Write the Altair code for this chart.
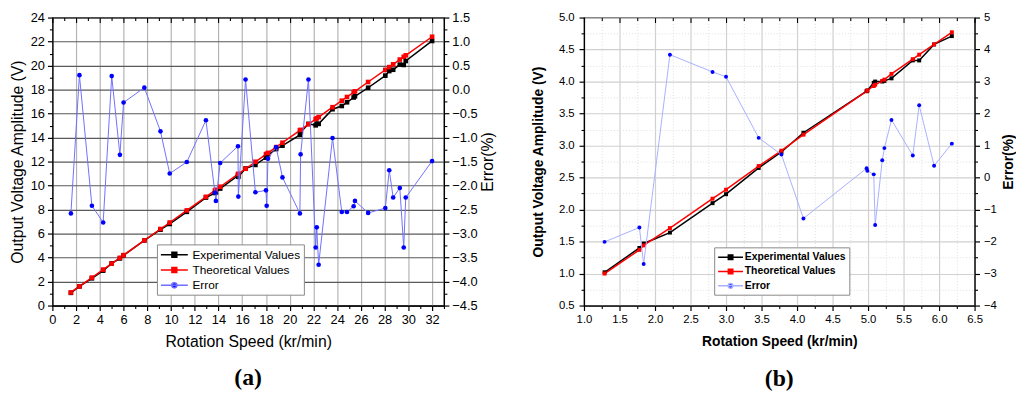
import altair as alt
import pandas as pd

# ---------------- Panel (a) data ----------------
a_speed = [1.56, 2.28, 3.33, 4.28, 5.00, 5.69, 6.00, 7.75, 9.11, 9.89,
           11.33, 12.94, 13.70, 13.78, 14.14, 15.64, 15.67, 16.28, 17.11, 18.00,
           18.06, 18.17, 18.86, 19.39, 20.86, 20.92, 21.58, 22.19, 22.28, 22.44,
           23.61, 24.39, 24.83, 25.39, 25.50, 26.61, 28.06, 28.39, 28.72, 29.28,
           29.61, 29.78, 32.00]
a_theo = [1.09, 1.60, 2.33, 3.00, 3.50, 3.98, 4.20, 5.43, 6.38, 6.92,
          7.93, 9.06, 9.59, 9.65, 9.90, 10.95, 10.97, 11.40, 11.98, 12.60,
          12.64, 12.72, 13.20, 13.57, 14.60, 14.64, 15.11, 15.53, 15.60, 15.71,
          16.53, 17.07, 17.38, 17.77, 17.85, 18.63, 19.64, 19.87, 20.10, 20.50,
          20.73, 20.85, 22.40]
a_exp = [1.06, 1.60, 2.27, 2.91, 3.51, 3.93, 4.19, 5.43, 6.32, 6.80,
         7.81, 9.00, 9.38, 9.43, 9.75, 10.82, 10.73, 11.42, 11.72, 12.34,
         12.33, 12.54, 13.04, 13.32, 14.22, 14.44, 15.14, 15.02, 15.15, 15.14,
         16.36, 16.63, 16.94, 17.34, 17.44, 18.15, 19.16, 19.54, 19.65, 20.08,
         20.05, 20.38, 22.05]
a_err = [-2.58, 0.30, -2.42, -2.77, 0.28, -1.36, -0.27, 0.04, -0.87, -1.75,
         -1.51, -0.64, -2.15, -2.32, -1.53, -1.18, -2.23, 0.21, -2.14, -2.10,
         -2.42, -1.44, -1.20, -1.83, -2.58, -1.35, 0.21, -3.29, -2.87, -3.65,
         -1.01, -2.55, -2.55, -2.43, -2.32, -2.57, -2.47, -1.68, -2.25, -2.05,
         -3.29, -2.25, -1.49]
a_xticks = [0, 2, 4, 6, 8, 10, 12, 14, 16, 18, 20, 22, 24, 26, 28, 30, 32]
a_xminor = [1, 3, 5, 7, 9, 11, 13, 15, 17, 19, 21, 23, 25, 27, 29, 31, 33]
a_yticks = [0, 2, 4, 6, 8, 10, 12, 14, 16, 18, 20, 22, 24]
a_yminor = [1, 3, 5, 7, 9, 11, 13, 15, 17, 19, 21, 23]
a_rticks = [-4.5, -4.0, -3.5, -3.0, -2.5, -2.0, -1.5, -1.0, -0.5, 0.0, 0.5, 1.0, 1.5]
a_rminor = [-4.25, -3.75, -3.25, -2.75, -2.25, -1.75, -1.25, -0.75, -0.25, 0.25, 0.75, 1.25]

# ---------------- Panel (b) data ----------------
b_speed = [1.29, 1.78, 1.84, 2.21, 2.81, 3.00, 3.46, 3.78, 4.09, 4.98,
           4.99, 5.08, 5.10, 5.20, 5.23, 5.33, 5.63, 5.72, 5.93, 6.18]
b_exp = [1.02, 1.40, 1.47, 1.64, 2.10, 2.24, 2.65, 2.90, 3.20, 3.85,
         3.86, 3.98, 4.00, 4.00, 4.01, 4.05, 4.33, 4.33, 4.58, 4.71]
b_theo = [1.00, 1.37, 1.44, 1.71, 2.17, 2.31, 2.68, 2.92, 3.17, 3.85,
          3.86, 3.93, 3.95, 4.01, 4.03, 4.12, 4.35, 4.42, 4.58, 4.77]
b_err = [-2.01, -1.56, -2.70, 3.84, 3.30, 3.15, 1.24, 0.72, -1.28, 0.29,
         0.21, 0.10, -1.48, 0.54, 0.92, 1.80, 0.69, 2.26, 0.37, 1.06]
b_xticks = [1.0, 1.5, 2.0, 2.5, 3.0, 3.5, 4.0, 4.5, 5.0, 5.5, 6.0, 6.5]
b_xminor = [1.25, 1.75, 2.25, 2.75, 3.25, 3.75, 4.25, 4.75, 5.25, 5.75, 6.25]
b_yticks = [0.5, 1.0, 1.5, 2.0, 2.5, 3.0, 3.5, 4.0, 4.5, 5.0]
b_yminor = [0.75, 1.25, 1.75, 2.25, 2.75, 3.25, 3.75, 4.25, 4.75]
b_rticks = [-4, -3, -2, -1, 0, 1, 2, 3, 4, 5]
b_rminor = [-3.5, -2.5, -1.5, -0.5, 0.5, 1.5, 2.5, 3.5, 4.5]

series_names = ["Experimental Values", "Theoretical Values", "Error"]
FONT = "Liberation Sans"

# legend glyphs: a short line with the marker on it
LEG_SQUARE = "M-1,0H3.2M0.72,-0.38H1.48V0.38H0.72Z"
LEG_CIRCLE = "M-1,0H3.2M1.5,0A0.4,0.4 0 1,1 0.7,0A0.4,0.4 0 1,1 1.5,0Z"


def axis_common(st, side):
    return dict(labelFont=FONT, labelFontSize=st["tick_fs"], labelColor="black",
                titleFont=FONT, titleFontSize=st["title_fs"],
                titleFontWeight=st["title_fw"], titleColor="black",
                domainColor="black", domainWidth=1.2, tickColor="black",
                tickSize=5, tickWidth=1.2, labelPadding=st["lab_pad_" + side],
                labelFlush=False, labelOverlap=False)


def tick_only(df, channel, xdom, yfield, ydom, values, orient, size, offset=0, grid=None):
    """An empty layer that only contributes an extra (tick-only) axis on a shared scale."""
    kw = dict(orient=orient, values=values, labels=False, domain=False, title=None,
              ticks=True, tickSize=size, tickColor="black", tickWidth=1.1, offset=offset)
    if grid:
        kw.update(grid=True, gridColor=grid[0], gridDash=grid[1], gridWidth=grid[2])
    else:
        kw.update(grid=False)
    xs = alt.Scale(domain=xdom, nice=False, zero=False)
    ys = alt.Scale(domain=ydom, nice=False, zero=False)
    if channel == "x":
        enc = dict(x=alt.X("speed:Q", scale=xs, axis=alt.Axis(**kw)),
                   y=alt.Y(yfield, scale=ys, axis=None))
    else:
        enc = dict(x=alt.X("speed:Q", scale=xs, axis=None),
                   y=alt.Y(yfield, scale=ys, axis=alt.Axis(**kw)))
    return alt.Chart(df).transform_filter("false").mark_point(opacity=0).encode(**enc)


def make_panel(speed, exp, theo, err, xdom, xticks, xminor, xfmt, ydom, yticks, yminor, yfmt,
               rdom, rticks, rminor, rfmt, st):
    n = len(speed)
    volt = pd.DataFrame({
        "speed": speed + speed,
        "v": exp + theo,
        "series": ["Experimental Values"] * n + ["Theoretical Values"] * n,
    })
    errdf = pd.DataFrame({"speed": speed, "err": err})
    legdf = pd.DataFrame({"series": series_names})
    emp = pd.DataFrame({"speed": [xdom[0]], "v": [ydom[0]], "err": [rdom[0]]})

    xscale = alt.Scale(domain=xdom, nice=False, zero=False)
    x = alt.X("speed:Q", scale=xscale,
              axis=alt.Axis(orient="bottom", values=xticks, format=xfmt,
                            title="Rotation Speed (kr/min)",
                            titlePadding=st["xtitle_pad"],
                            grid=True, gridColor=st["xgrid"], gridWidth=st["gridw"],
                            **axis_common(st, "x")))

    volt_ch = alt.Chart(volt).mark_line(
        strokeWidth=1.5,
        point=alt.OverlayMarkDef(shape="square", filled=True, size=st["msize"], opacity=1),
    ).encode(
        x=x,
        y=alt.Y("v:Q",
                scale=alt.Scale(domain=ydom, nice=False, zero=False),
                axis=alt.Axis(orient="left", values=yticks, format=yfmt,
                              title="Output Voltage Amplitude (V)",
                              titlePadding=st["ytitle_pad"],
                              grid=True, gridColor=st["ygrid"], gridWidth=st["gridw"],
                              **axis_common(st, "y"))),
        color=alt.Color("series:N",
                        scale=alt.Scale(domain=["Experimental Values", "Theoretical Values"],
                                        range=["#000000", "#ff0000"]),
                        legend=None),
        order=alt.Order("speed:Q"),
    )

    mg = st["minor_grid"]
    volt_sub = alt.layer(
        volt_ch,
        tick_only(emp, "x", xdom, "v:Q", ydom, xminor, "bottom", 3, grid=mg),
        tick_only(emp, "x", xdom, "v:Q", ydom, xticks, "top", 5, offset=-5),
        tick_only(emp, "x", xdom, "v:Q", ydom, xminor, "top", 3, offset=-3),
        tick_only(emp, "y", xdom, "v:Q", ydom, yminor, "left", 3, grid=mg),
    ).resolve_axis(x="independent", y="independent")

    err_ch = alt.Chart(errdf).mark_line(
        strokeWidth=1, color=st["err_line"],
        point=alt.OverlayMarkDef(shape="circle", filled=True, size=st["msize"],
                                 color="#0000ff", opacity=1),
    ).encode(
        x=alt.X("speed:Q", scale=xscale, axis=None),
        y=alt.Y("err:Q",
                scale=alt.Scale(domain=rdom, nice=False, zero=False),
                axis=alt.Axis(orient="right", values=rticks, format=rfmt, title="Error(%)",
                              titleAngle=270, titleBaseline="top",
                              titlePadding=st["rtitle_pad"], grid=False,
                              **axis_common(st, "r"))),
        order=alt.Order("speed:Q"),
    )

    legend = alt.Legend(orient="none", legendX=st["legx"], legendY=st["legy"], title=None,
                        strokeColor="#888888", fillColor="white", padding=st["legpad"],
                        labelFont=FONT, labelFontSize=st["leg_fs"],
                        labelFontWeight=st["leg_fw"], labelColor="black",
                        symbolSize=st["legsym"], symbolStrokeWidth=1.5,
                        rowPadding=st["legrow"], labelOffset=st["leg_loff"], labelLimit=300)
    leg_ch = alt.Chart(legdf).transform_filter("false").mark_point(
        filled=False, opacity=1
    ).encode(
        shape=alt.Shape("series:N", scale=alt.Scale(domain=series_names,
                                                    range=[LEG_SQUARE, LEG_SQUARE, LEG_CIRCLE]),
                        legend=legend),
        fill=alt.Fill("series:N", scale=alt.Scale(domain=series_names,
                                                  range=["#000000", "#ff0000", "#0000ff"]),
                      legend=legend),
        stroke=alt.Stroke("series:N", scale=alt.Scale(domain=series_names,
                                                      range=["#000000", "#ff0000", st["err_line"]]),
                          legend=legend),
    )

    err_sub = alt.layer(
        err_ch,
        tick_only(emp, "y", xdom, "err:Q", rdom, rminor, "right", 3),
        leg_ch,
    ).resolve_axis(y="independent")

    return alt.layer(volt_sub, err_sub).resolve_scale(
        y="independent"
    ).properties(
        width=st["w"], height=292,
        title=alt.TitleParams(st["label"], orient="bottom", anchor="middle", frame="group",
                              font="Liberation Serif", fontSize=24, fontWeight="bold",
                              color="black", offset=st["lab_off"]),
    )


style_a = dict(tick_fs=13, title_fs=16, title_fw="normal", xtitle_pad=8, ytitle_pad=5,
               rtitle_pad=3, lab_pad_x=3, lab_pad_y=3, lab_pad_r=3,
               xgrid="#b4b4b4", ygrid="#5a5a5a", gridw=1.2, msize=22, minor_grid=None,
               err_line="#6f6fff", legx=106, legy=230, legpad=3, leg_fs=12, leg_fw="normal",
               legsym=169, legrow=1.5, leg_loff=18, w=397, label="(a)", lab_off=17)
style_b = dict(tick_fs=11.5, title_fs=14, title_fw="bold", xtitle_pad=10, ytitle_pad=13,
               rtitle_pad=5, lab_pad_x=3, lab_pad_y=5, lab_pad_r=4,
               xgrid="#d0d0d0", ygrid="#d0d0d0", gridw=1.2, msize=16,
               minor_grid=("#dddddd", [1, 2], 1),
               err_line="#a9b0ff", legx=132, legy=233, legpad=3, leg_fs=10.5, leg_fw="bold",
               legsym=144, legrow=1.5, leg_loff=14, w=396, label="(b)", lab_off=19)

pa = make_panel(a_speed, a_exp, a_theo, a_err, [0, 33], a_xticks, a_xminor, "d",
                [0, 24], a_yticks, a_yminor, "d",
                [-4.5, 1.5], a_rticks, a_rminor, ".1f", style_a)
pb = make_panel(b_speed, b_exp, b_theo, b_err, [1.0, 6.5], b_xticks, b_xminor, ".1f",
                [0.5, 5.0], b_yticks, b_yminor, ".1f",
                [-4, 5], b_rticks, b_rminor, "d", style_b)

chart = alt.hconcat(pa, pb, spacing=34).resolve_scale(
    color="independent", fill="independent", stroke="independent", shape="independent"
).resolve_legend(
    fill="independent", stroke="independent", shape="independent"
).properties(
    padding={"left": 0, "top": 0, "right": 0, "bottom": 0}
).configure_view(stroke="black", strokeWidth=1.2)

chart.save("out.html", embed_options={"renderer": "svg", "actions": False})
